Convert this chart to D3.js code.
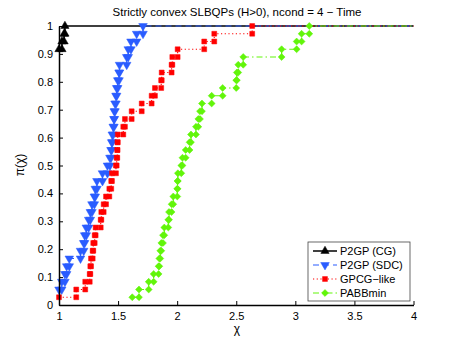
<!DOCTYPE html>
<html><head><meta charset="utf-8">
<script src="https://cdn.jsdelivr.net/npm/d3@7"></script>
<style>body{margin:0;background:#fff}text{font-family:"Liberation Sans",Arial,sans-serif}</style>
</head><body><svg id="c" width="457" height="344"></svg>
<script>
const seriesNames = ["P2GP (CG)", "P2GP (SDC)", "GPCG\u2212like", "PABBmin"];
const p2gpCG = [1,1,1,1,1,1,1,1,1,1,1,1,1,1,1,1,1,1,1,1,1,1,1,1,1,1,1,1,1,1,1,1,1,1.025,1.043,1.05];
const p2gpSDC = [1.0,1.0,1.023,1.05,1.065,1.087,1.182,1.209,1.217,1.231,1.251,1.265,1.279,1.299,1.307,1.321,1.368,1.41,1.431,1.44,1.446,1.451,1.459,1.465,1.468,1.474,1.482,1.488,1.497,1.508,1.512,1.573,1.586,1.609,1.657,1.711];
const gpcgLike = [1.0,1.146,1.222,1.26,1.265,1.271,1.285,1.29,1.302,1.31,1.353,1.358,1.378,1.398,1.426,1.442,1.448,1.482,1.488,1.493,1.495,1.497,1.544,1.558,1.615,1.70,1.784,1.812,1.865,1.869,1.953,1.959,2.004,2.229,2.314,2.635];
const pabbMin = [1.62,1.677,1.759,1.801,1.843,1.849,1.857,1.866,1.880,1.891,1.925,1.931,1.953,1.967,2.001,2.003,2.006,2.035,2.045,2.072,2.105,2.117,2.159,2.179,2.193,2.21,2.292,2.385,2.50,2.505,2.517,2.559,2.884,3.011,3.053,3.118];
const xTicks = [1,1.5,2,2.5,3,3.5,4];
const yTicks = [0,0.1,0.2,0.3,0.4,0.5,0.6,0.7,0.8,0.9,1];
const titleText = "Strictly convex SLBQPs (H>0), ncond = 4 \u2212 Time";

const svg = d3.select("#c");
const x = d3.scaleLinear().domain([1,4]).range([59,413.5]);
const y = d3.scaleLinear().domain([0,1]).range([305,26]);

const styles = [
  {data:p2gpCG, color:"#000000", dash:null, width:1.5, marker:"up"},
  {data:p2gpSDC, color:"#2a5cff", dash:"6,4", width:1.2, marker:"down"},
  {data:gpcgLike, color:"#ff0000", dash:"1.2,2.5", width:1.1, marker:"square"},
  {data:pabbMin, color:"#62f50a", dash:"6,3,1.5,3", width:1.2, marker:"diamond"}
];

function stairs(vals){
  const n = vals.length;
  const s = vals.slice().sort((a,b)=>a-b);
  const u = [], f = [];
  s.forEach((v,i)=>{ if(u.length && u[u.length-1]===v){ f[f.length-1]=(i+1)/n; } else { u.push(v); f.push((i+1)/n); } });
  const pts = [];
  for(let i=0;i<u.length;i++){
    if(i>0) pts.push([u[i], f[i-1]]);
    pts.push([u[i], f[i]]);
  }
  return pts;
}

function markerPath(kind){
  if(kind==="up") return d3.symbol().type(d3.symbolTriangle).size(30)();
  if(kind==="down") return d3.symbol().type(d3.symbolTriangle).size(32)();
  if(kind==="square") return d3.symbol().type(d3.symbolSquare).size(24)();
  return d3.symbol().type(d3.symbolSquare).size(24)();
}
function markerTransform(kind, px, py){
  if(kind==="down") return `translate(${px},${py}) rotate(180)`;
  if(kind==="diamond") return `translate(${px},${py}) rotate(45)`;
  return `translate(${px},${py})`;
}

const line = d3.line().x(d=>x(d[0])).y(d=>y(d[1]));
styles.forEach(st=>{
  const pts = stairs(st.data);
  const full = pts.concat([[4,1]]);
  svg.append("path").attr("d", line(full)).attr("fill","none")
    .attr("stroke", st.color).attr("stroke-width", st.width)
    .attr("stroke-dasharray", st.dash);
  svg.append("g").selectAll("path").data(pts).join("path")
    .attr("d", markerPath(st.marker))
    .attr("transform", d=>markerTransform(st.marker, x(d[0]), y(d[1])))
    .attr("fill", st.color).attr("stroke", st.color).attr("stroke-width",0.5);
});

// axes
const xAxis = d3.axisBottom(x).tickValues(xTicks).tickSizeInner(-4).tickSizeOuter(0).tickPadding(7)
  .tickFormat(d=>String(d));
const gx = svg.append("g").attr("transform","translate(0,305)").call(xAxis);
const yAxis = d3.axisLeft(y).tickValues(yTicks).tickSizeInner(-4).tickSizeOuter(0).tickPadding(6)
  .tickFormat(d=>String(d));
const gy = svg.append("g").attr("transform","translate(59,0)").call(yAxis);
[gx,gy].forEach(g=>{
  g.select(".domain").attr("stroke","#000").attr("stroke-width",1.5);
  g.selectAll(".tick line").attr("stroke","#000").attr("stroke-width",1);
  g.selectAll(".tick text").attr("font-size",11).attr("fill","#000").attr("font-family","Liberation Sans, Arial, sans-serif");
});

svg.append("text").attr("x",237).attr("y",16).attr("text-anchor","middle").attr("font-size",11.5).text(titleText);
svg.append("text").attr("x",237).attr("y",333).attr("text-anchor","middle").attr("font-size",12).text("\u03c7");
svg.append("text").attr("transform","translate(24,165) rotate(-90)").attr("text-anchor","middle").attr("font-size",12).text("\u03c0(\u03c7)");

// legend
const lg = svg.append("g");
lg.append("rect").attr("x",308).attr("y",242).attr("width",102).attr("height",59)
  .attr("fill","#fff").attr("stroke","#444").attr("stroke-width",0.8);
styles.forEach((st,i)=>{
  const ly = 251 + i*14;
  lg.append("line").attr("x1",313).attr("x2",337).attr("y1",ly).attr("y2",ly)
    .attr("stroke",st.color).attr("stroke-width",st.width).attr("stroke-dasharray",st.dash);
  lg.append("path").attr("d",markerPath(st.marker)).attr("transform",markerTransform(st.marker,325,ly))
    .attr("fill",st.color).attr("stroke",st.color).attr("stroke-width",0.5);
  lg.append("text").attr("x",340).attr("y",ly+4).attr("font-size",11).text(seriesNames[i]);
});
</script></body></html>
